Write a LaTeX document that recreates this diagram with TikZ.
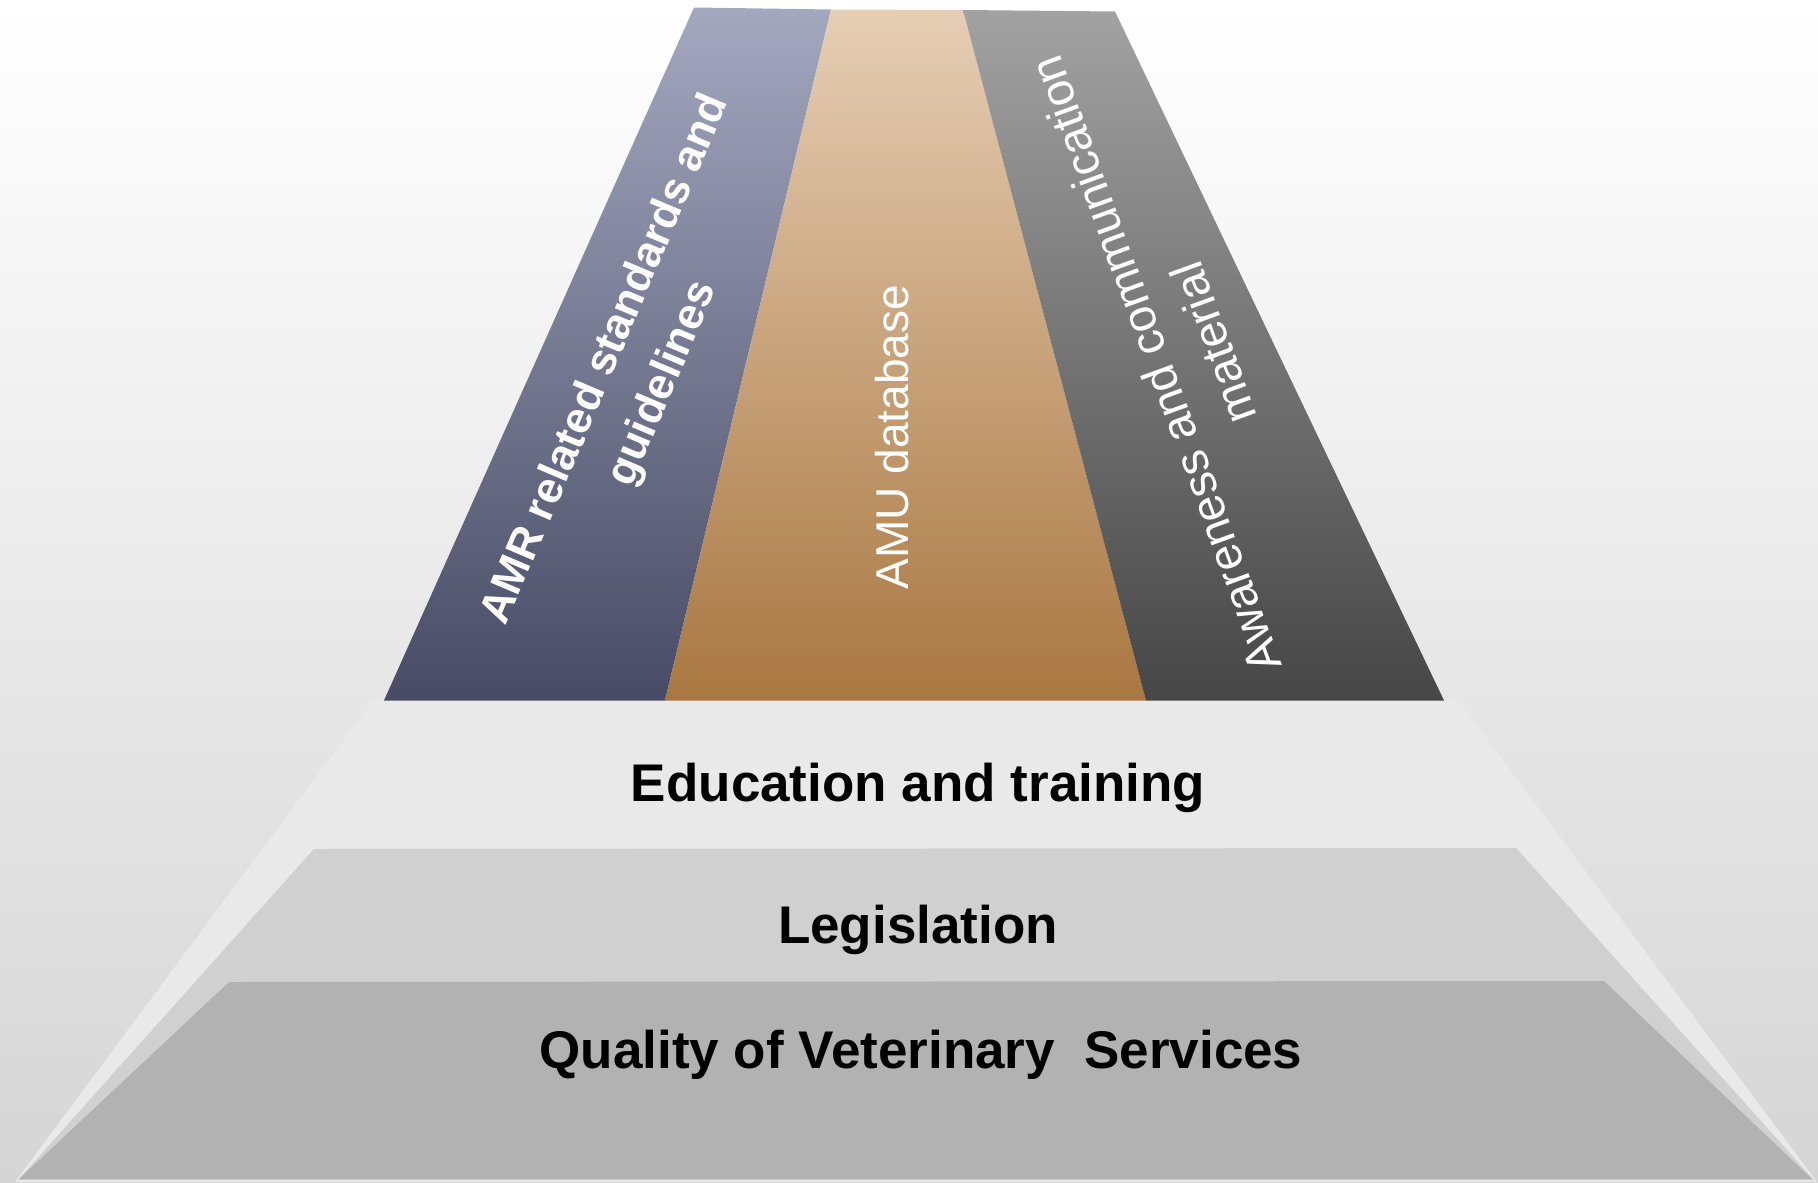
\documentclass[tikz,border=0pt]{standalone}
\usepackage{fontspec}
\setmainfont{Liberation Sans}
\definecolor{bgmid}{HTML}{F3F3F3}
\definecolor{bgbot}{HTML}{D5D5D5}
\definecolor{lefttop}{HTML}{A3A8BF}
\definecolor{leftbot}{HTML}{474B65}
\definecolor{midtop}{HTML}{E6CEB4}
\definecolor{midbot}{HTML}{A97741}
\definecolor{righttop}{HTML}{A2A2A2}
\definecolor{rightbot}{HTML}{464646}
\definecolor{educol}{HTML}{E9E9E9}
\definecolor{legcol}{HTML}{D0D0D0}
\definecolor{qualcol}{HTML}{B2B2B2}
\tikzset{
  layerlabel/.style={inner sep=0pt, anchor=base, text=black, font=\bfseries\fontsize{53}{60}\selectfont},
  pillarlabel/.style={inner sep=0pt, text=white, align=center},
}
\begin{document}
\begin{tikzpicture}[x=1pt,y=-1pt]
\useasboundingbox (0,0) rectangle (1818,1183);
% background
\shade[top color=white, middle color=bgmid, bottom color=bgbot] (0,0) rectangle (1818,1183);
% layers
\fill[educol] (373,700) -- (1458,700) -- (1817,1182) -- (15,1182) -- cycle;
\fill[legcol] (314,849) -- (1516,848) -- (1814,1180) -- (18,1180) -- cycle;
\fill[qualcol] (229,982) -- (1604,981) -- (1812,1179) -- (19,1179) -- cycle;
% pillars
\shade[top color=lefttop, bottom color=leftbot] (694,7.5) -- (831,9.5) -- (665,700.5) -- (384,700.5) -- cycle;
\shade[top color=midtop, bottom color=midbot] (831,9.5) -- (963,10) -- (1146,700.5) -- (665,700.5) -- cycle;
\shade[top color=righttop, bottom color=rightbot] (963,10) -- (1115,11.5) -- (1444,700.5) -- (1146,700.5) -- cycle;
% layer labels
\node[layerlabel] (edu) at (918,801) {Education and training};
\node[layerlabel] (leg) at (918,943) {Legislation};
\node[layerlabel] (qual) at (921,1068) {Quality of Veterinary\ \ Services};
% pillar labels
\node[pillarlabel, rotate=67, font=\bfseries\fontsize{44}{62}\selectfont] (amr) at (635,372) {AMR related standards and\\guidelines};
\node[pillarlabel, rotate=90, anchor=base, font=\fontsize{46}{56}\selectfont] (amu) at (908,437) {AMU database};
\node[pillarlabel, rotate=110, font=\fontsize{47}{62}\selectfont] (awa) at (1184,354) {Awareness and communication\\material};
\end{tikzpicture}
\end{document}
